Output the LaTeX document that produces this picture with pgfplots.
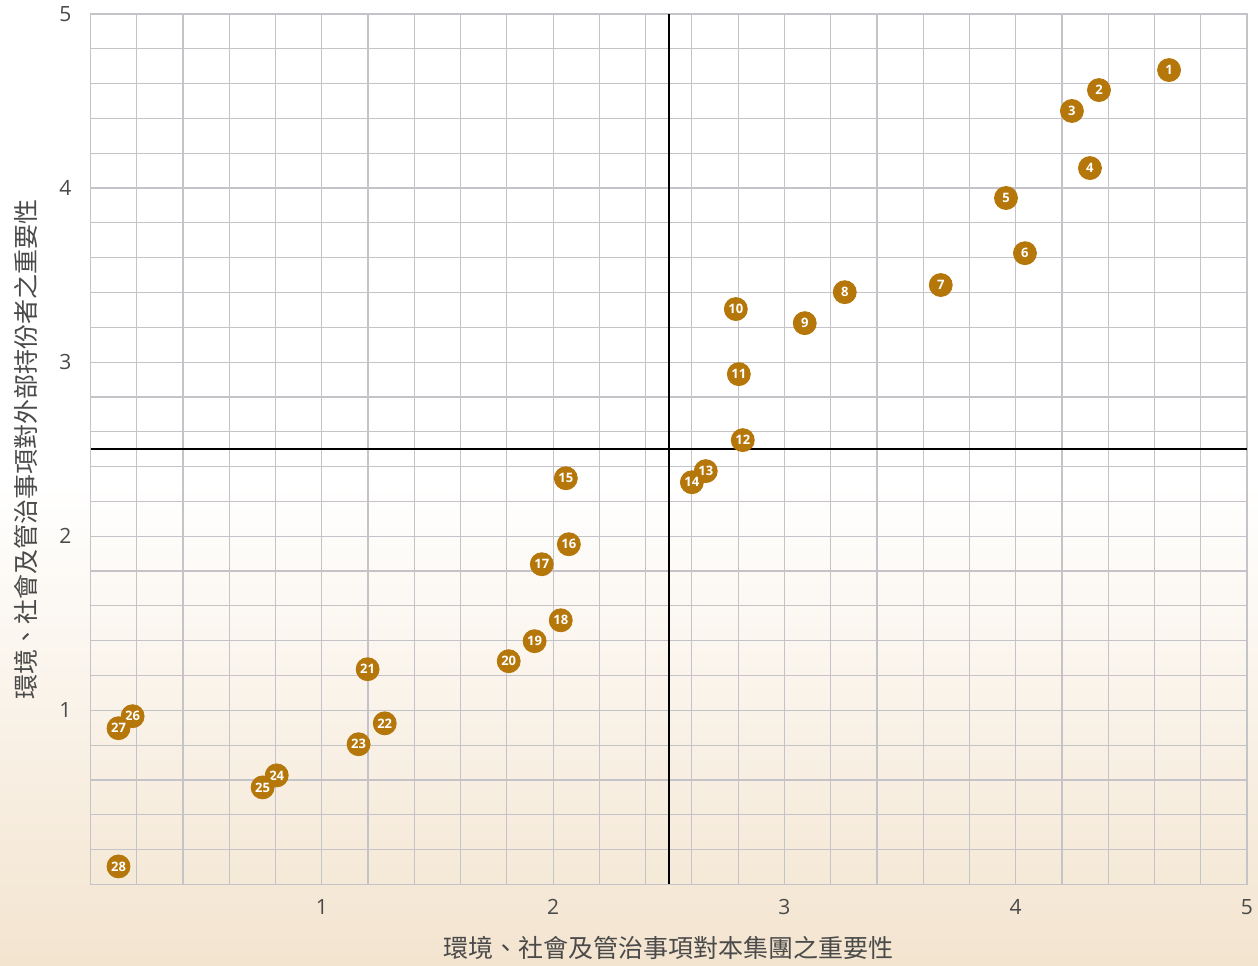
\documentclass[border=0pt]{standalone}
\usepackage{fontspec}
\setmainfont{Open Sans}
\newfontfamily\cjk{Noto Sans CJK TC}
\usepackage{pgfplots}
\pgfplotsset{compat=1.18}
\usepackage{pgfplotstable}

\definecolor{ptcol}{HTML}{B5760A}
\definecolor{gridcol}{HTML}{C4C4C8}
\definecolor{labcol}{HTML}{4A4A4A}
\definecolor{bgbot}{HTML}{F3E4CF}

% x, y, issue number
\pgfplotstableread{
x     y     id
4.663 4.678 1
4.360 4.563 2
4.243 4.443 3
4.321 4.115 4
3.958 3.943 5
4.040 3.626 6
3.676 3.443 7
3.261 3.402 8
3.088 3.224 9
2.790 3.305 10
2.803 2.931 11
2.820 2.552 12
2.660 2.374 13
2.600 2.310 14
2.055 2.333 15
2.068 1.954 16
1.951 1.839 17
2.033 1.517 18
1.920 1.397 19
1.808 1.282 20
1.198 1.236 21
1.272 0.925 22
1.159 0.805 23
0.805 0.626 24
0.744 0.557 25
0.182 0.966 26
0.121 0.897 27
0.121 0.103 28
}\pts

\begin{document}
\begin{tikzpicture}
  % page background
  \shade[top color=white, bottom color=bgbot, middle color=white]
    (-45.25pt,-40.5pt) rectangle (583.5pt,442pt);
  \begin{axis}[
      at={(0,0)}, anchor=south west,
      scale only axis,
      width=578pt, height=435pt,
      xmin=0, xmax=5, ymin=0, ymax=5,
      xtick={0,1,...,5}, ytick={0,1,...,5},
      xticklabels={,1,2,3,4,5}, yticklabels={,1,2,3,4,5},
      minor tick num=4,
      grid=both,
      major grid style={gridcol, line width=0.6pt},
      minor grid style={gridcol, line width=0.6pt},
      axis line style={gridcol, line width=0.6pt},
      major tick length=0pt, minor tick length=0pt,
      tick style={draw=none},
      /pgf/number format/assume math mode=true,
      ticklabel style={font=\fontsize{10.5}{12}\selectfont, text=labcol},
      xticklabel style={yshift=-4pt},
      yticklabel style={xshift=-6pt},
      xlabel={\cjk 環境、社會及管治事項對本集團之重要性},
      ylabel={\cjk 環境、社會及管治事項對外部持份者之重要性},
      label style={font=\fontsize{12.5}{14}\selectfont, text=labcol},
      xlabel style={at={(0.5,0)}, anchor=center, yshift=-32pt},
      ylabel style={at={(0,0.5)}, anchor=center, yshift=32.5pt},
      clip=false,
    ]
    \addplot[black, line width=0.8pt] coordinates {(2.5,0) (2.5,5)};
    \addplot[black, line width=0.8pt] coordinates {(0,2.5) (5,2.5)};
    \addplot[
      scatter, only marks, mark=*, mark size=5.75pt,
      visualization depends on={\thisrow{id} \as \pid},
      scatter/@pre marker code/.code={\scope[draw=ptcol, fill=ptcol]},
      scatter/@post marker code/.code={%
        \pgfmathtruncatemacro\pidint{\pid}%
        \node[text=white, inner sep=0pt, font=\fontsize{6.5}{6.5}\selectfont\bfseries] at (0,0) {\pidint};\endscope},
    ] table[x=x, y=y] {\pts};
  \end{axis}
  \pgfresetboundingbox
  \path[use as bounding box] (-45.25pt,-40.5pt) rectangle (583.5pt,442pt);
\end{tikzpicture}
\end{document}
